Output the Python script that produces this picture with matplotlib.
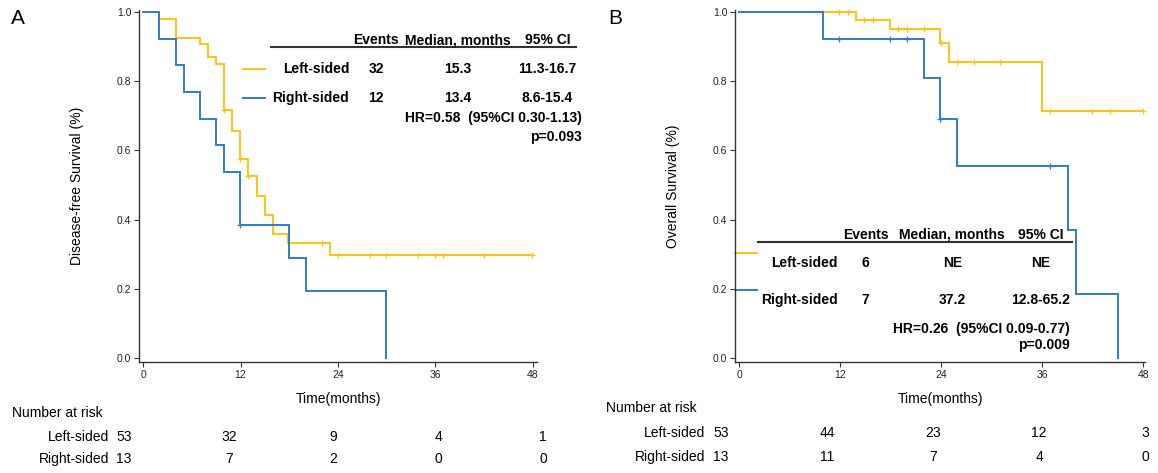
import numpy as np
import matplotlib
matplotlib.use('Agg')
import matplotlib.pyplot as plt

plt.rcParams['font.family'] = ['Liberation Sans', 'DejaVu Sans']

YELLOW = '#FFC20E'
BLUE = '#2F7BD4'
DARK = '#333333'

# ---- data ----
# A: disease-free survival
dfs_left_t = [0, 2, 4, 7, 8, 9, 10, 10.9, 11.9, 12.9, 14, 15, 16, 17.9, 23, 47.9]
dfs_left_s = [1.0, 0.981, 0.926, 0.907, 0.869, 0.850, 0.718, 0.656, 0.574, 0.525,
              0.469, 0.414, 0.358, 0.331, 0.297, 0.297]
dfs_left_cens = [10.0, 11.9, 12.9, 22.0, 24.0, 28.0, 29.9, 33.9, 35.9, 36.9, 42.0, 47.9]
dfs_right_t = [0, 2, 4, 5, 7, 9, 10, 11.9, 18, 20, 29.9]
dfs_right_s = [1.0, 0.923, 0.846, 0.769, 0.692, 0.615, 0.538, 0.385, 0.289, 0.192, 0.0]
dfs_right_cens = [11.9]

# B: overall survival
os_left_t = [0, 13.9, 17.9, 23.9, 24.9, 36.0, 48.0]
os_left_s = [1.0, 0.977, 0.950, 0.910, 0.857, 0.714, 0.714]
os_left_cens = [9.8, 11.9, 12.95, 14.85, 15.9, 18.9, 19.9, 21.9, 24.0, 25.9, 27.9,
                31.0, 36.9, 41.9, 44.0, 48.0]
os_right_t = [0, 9.9, 21.9, 23.8, 25.9, 39.0, 40.0, 45.0]
os_right_s = [1.0, 0.923, 0.808, 0.692, 0.554, 0.369, 0.185, 0.0]
os_right_cens = [11.9, 17.9, 19.9, 23.9, 36.9]

risk_times = [0, 12, 24, 36, 48]
dfs_risk_left = [53, 32, 9, 4, 1]
dfs_risk_right = [13, 7, 2, 0, 0]
os_risk_left = [53, 44, 23, 12, 3]
os_risk_right = [13, 11, 7, 4, 0]

groups = ['Left-sided', 'Right-sided']
table_header = ['Events', 'Median, months', '95% CI']
dfs_table = [['32', '15.3', '11.3-16.7'], ['12', '13.4', '8.6-15.4']]
dfs_hr = 'HR=0.58  (95%CI 0.30-1.13)'
dfs_p = 'p=0.093'
os_table = [['6', 'NE', 'NE'], ['7', '37.2', '12.8-65.2']]
os_hr = 'HR=0.26  (95%CI 0.09-0.77)'
os_p = 'p=0.009'

W, H = 1158, 473
fig = plt.figure(figsize=(W / 100, H / 100), dpi=100)


def px_axes(x0, x1, y0, y1):
    return fig.add_axes([x0 / W, 1 - y1 / H, (x1 - x0) / W, (y1 - y0) / H])


def km(ax, t, s, cens, color):
    ax.step(t, s, where='post', color=color, lw=1.4, solid_joinstyle='miter')
    t = np.asarray(t)
    idx = np.searchsorted(t, cens, side='right') - 1
    ax.plot(cens, np.asarray(s)[idx], ls='none', marker='+', ms=5, mew=0.9, color=color)


def style(ax, ylabel, xmax):
    ax.set_xlim(-0.5, xmax)
    ax.set_ylim(-0.012, 1.006)
    ax.set_xticks(risk_times)
    ax.set_yticks([0, 0.2, 0.4, 0.6, 0.8, 1.0])
    ax.set_yticklabels(['0.0', '0.2', '0.4', '0.6', '0.8', '1.0'])
    for sp in ['top', 'right']:
        ax.spines[sp].set_visible(False)
    for sp in ['left', 'bottom']:
        ax.spines[sp].set_color(DARK)
        ax.spines[sp].set_linewidth(1.0)
    ax.tick_params(direction='out', length=3.5, width=0.8, color=DARK,
                   labelsize=7.5, labelcolor='#222222', pad=2)
    ax.set_xlabel('Time(months)', fontsize=10, labelpad=9)
    ax.set_ylabel(ylabel, fontsize=10, labelpad=24)


def table(ax, cols, label_x, rows_y, head_y, line_x, legend_x, legend_dy, rows,
          hr, p, hr_x, hr_y, p_y):
    kw = dict(fontsize=10, fontweight='bold', va='center', clip_on=False)
    for c, h in zip(cols, table_header):
        ax.text(c, head_y, h, ha='center', **kw)
    ax.plot(line_x, [head_y - 0.02] * 2, color=DARK, lw=1.5, clip_on=False)
    for g, y, row, color in zip(groups, rows_y, rows, [YELLOW, BLUE]):
        ax.plot(legend_x, [y + legend_dy] * 2, color=color, lw=1.4, clip_on=False)
        ax.text(label_x, y, g, ha='right', **kw)
        for c, v in zip(cols, row):
            ax.text(c, y, v, ha='center', **kw)
    ax.text(hr_x, hr_y, hr, ha='right', **kw)
    ax.text(hr_x, p_y, p, ha='right', **kw)


def risk(x0, x1, y_title, y_rows, title_x, lab_x, left, right):
    ax = px_axes(x0, x1, 0, H)
    ax.set_xlim(0, 48)
    ax.set_ylim(H, 0)
    ax.axis('off')
    ax.text(title_x, y_title, 'Number at risk', fontsize=10, va='center', ha='left',
            clip_on=False)
    for g, y, vals in zip(groups, y_rows, [left, right]):
        ax.text(lab_x, y, g, fontsize=10, ha='right', va='center', clip_on=False)
        for t, v in zip(risk_times, vals):
            ax.text(t, y, str(v), fontsize=10, ha='center', va='center', clip_on=False)


# ---- panel A ----
axA = px_axes(139, 537, 10, 362)
km(axA, dfs_left_t, dfs_left_s, dfs_left_cens, YELLOW)
km(axA, dfs_right_t, dfs_right_s, dfs_right_cens, BLUE)
style(axA, 'Disease-free Survival (%)', 48.5)
table(axA, cols=[28.7, 38.8, 49.8], label_x=25.4, rows_y=[0.835, 0.752], head_y=0.919,
      line_x=[15.7, 53.3], legend_x=[12.3, 15.0], legend_dy=0.0, rows=dfs_table,
      hr=dfs_hr, p=dfs_p, hr_x=54.0, hr_y=0.694, p_y=0.639)

# ---- panel B ----
axB = px_axes(735, 1145, 10, 362)
km(axB, os_left_t, os_left_s, os_left_cens, YELLOW)
km(axB, os_right_t, os_right_s, os_right_cens, BLUE)
style(axB, 'Overall Survival (%)', 48.2)
table(axB, cols=[15.0, 25.3, 35.8], label_x=11.7, rows_y=[0.275, 0.168], head_y=0.356,
      line_x=[2.2, 39.5], legend_x=[-0.5, 2.1], legend_dy=0.029, rows=os_table,
      hr=os_hr, p=os_p, hr_x=39.3, hr_y=0.082, p_y=0.038)

# ---- numbers at risk ----
risk(124, 543, 413, [437, 459], -12.8, -1.7, dfs_risk_left, dfs_risk_right)
risk(721, 1145, 408, [433, 457], -13.0, -1.8, os_risk_left, os_risk_right)

fig.text(18 / W, 1 - 18 / H, 'A', fontsize=15, ha='center', va='center')
fig.text(615 / W, 1 - 18 / H, 'B', fontsize=15, ha='center', va='center')

fig.savefig('out.png', dpi=100)
